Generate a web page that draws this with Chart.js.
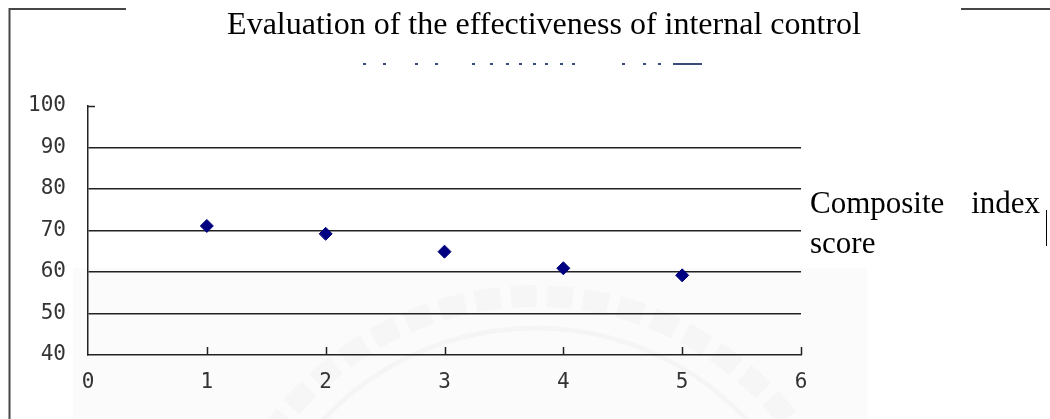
<!DOCTYPE html>
<html>
<head>
<meta charset="utf-8">
<script src="https://cdn.jsdelivr.net/npm/chart.js@4/dist/chart.umd.min.js"></script>
<style>
  html, body { margin: 0; padding: 0; background: #fff; }
  #wrap { width: 1050px; height: 419px; }
</style>
</head>
<body>
<div id="wrap"><canvas id="grafico" width="1050" height="419"></canvas></div>
<script>
const titulo = 'Evaluation of the effectiveness of internal control'
const legenda = ['Composite', 'index', 'score']

const posicoes = [1, 2, 3, 4, 5]
const notas = [71.1, 69.2, 64.9, 60.9, 59.2]

const xTicks = [0, 1, 2, 3, 4, 5, 6]
const yTicks = [40, 50, 60, 70, 80, 90, 100]

const serif = '"Liberation Serif", "Times New Roman", serif'
const mono = '"DejaVu Sans Mono", monospace'

// moldura, marca d'agua, titulo e legenda desenhados a mao
const extras = {
  id: 'extras',
  beforeDraw(chart) {
    const { ctx } = chart
    ctx.save()
    // fundo claro da marca d'agua
    ctx.fillStyle = '#fbfbfb'
    ctx.fillRect(73, 268, 794, 151)
    ctx.beginPath()
    ctx.strokeStyle = 'rgba(0,0,0,0.018)'
    ctx.lineWidth = 22
    ctx.setLineDash([26, 10])
    ctx.arc(535, 618, 322, Math.PI * 1.12, Math.PI * 1.9)
    ctx.stroke()
    ctx.setLineDash([])
    ctx.beginPath()
    ctx.strokeStyle = 'rgba(0,0,0,0.025)'
    ctx.lineWidth = 5
    ctx.arc(535, 618, 290, Math.PI * 1.15, Math.PI * 1.88)
    ctx.stroke()
    ctx.restore()
  },
  afterDraw(chart) {
    const { ctx, chartArea: a, scales } = chart
    ctx.save()

    // moldura
    ctx.strokeStyle = '#474747'
    ctx.lineWidth = 2
    ctx.beginPath()
    ctx.moveTo(126, 9); ctx.lineTo(9.5, 9); ctx.lineTo(9.5, 419)
    ctx.moveTo(961, 9); ctx.lineTo(1050, 9)
    ctx.stroke()

    // marcas internas dos eixos
    ctx.strokeStyle = '#222'
    ctx.lineWidth = 1.5
    ctx.beginPath()
    xTicks.slice(1).forEach(v => {
      const x = Math.round(scales.x.getPixelForValue(v)) + 0.5
      ctx.moveTo(x, a.bottom); ctx.lineTo(x, a.bottom - 8)
    })
    const yTopo = Math.round(scales.y.getPixelForValue(100)) + 0.5
    ctx.moveTo(a.left, yTopo); ctx.lineTo(a.left + 7, yTopo)
    ctx.stroke()

    // linha de texto cortada sob o titulo
    ctx.fillStyle = '#3a4a7a'
    ;[363, 383, 415, 435, 472, 490, 506, 519, 533, 545, 560, 572, 622, 643, 658].forEach(x => {
      ctx.fillRect(x, 63, 3, 2)
    })
    ctx.fillRect(673, 63, 29, 2)

    // titulo
    ctx.fillStyle = '#000'
    ctx.font = '32px ' + serif
    ctx.textAlign = 'center'
    ctx.textBaseline = 'alphabetic'
    ctx.fillText(titulo, 544, 34)

    // legenda justificada
    ctx.font = '31px ' + serif
    ctx.textAlign = 'left'
    ctx.fillText(legenda[0], 810, 213)
    ctx.textAlign = 'right'
    ctx.fillText(legenda[1], 1040, 213)
    ctx.textAlign = 'left'
    ctx.fillText(legenda[2], 810, 253)

    ctx.strokeStyle = '#000'
    ctx.lineWidth = 1
    ctx.beginPath()
    ctx.moveTo(1046.5, 210); ctx.lineTo(1046.5, 246)
    ctx.stroke()
    ctx.restore()
  }
}

new Chart(document.getElementById('grafico'), {
  type: 'scatter',
  data: {
    datasets: [{
      label: 'Composite index score',
      data: posicoes.map((p, i) => ({ x: p, y: notas[i] })),
      pointStyle: 'rectRot',
      pointRadius: 6.5,
      pointBackgroundColor: '#000080',
      pointBorderColor: '#000080',
      pointBorderWidth: 1
    }]
  },
  options: {
    responsive: false,
    animation: false,
    layout: { padding: { left: 0, right: 249, top: 106, bottom: 0 } },
    plugins: {
      legend: { display: false },
      title: { display: false },
      tooltip: { enabled: false }
    },
    scales: {
      x: {
        type: 'linear',
        min: 0,
        max: 6,
        afterBuildTicks: s => { s.ticks = xTicks.map(v => ({ value: v })) },
        afterFit: s => { s.height = 64 },
        grid: { display: false, drawTicks: false },
        border: { display: true, color: '#222', width: 1.5 },
        ticks: { padding: 15, color: '#333', font: { family: mono, size: 21 } }
      },
      y: {
        min: 40,
        max: 100,
        afterBuildTicks: s => { s.ticks = yTicks.map(v => ({ value: v })) },
        afterFit: s => { s.width = 88 },
        grid: {
          drawTicks: false,
          color: c => (c.tick.value === 100 || c.tick.value === 40) ? 'rgba(0,0,0,0)' : '#222',
          lineWidth: 1.5
        },
        border: { display: true, color: '#222', width: 1.5 },
        ticks: { padding: 22, color: '#333', font: { family: mono, size: 21 } }
      }
    }
  },
  plugins: [extras]
})
</script>
</body>
</html>
